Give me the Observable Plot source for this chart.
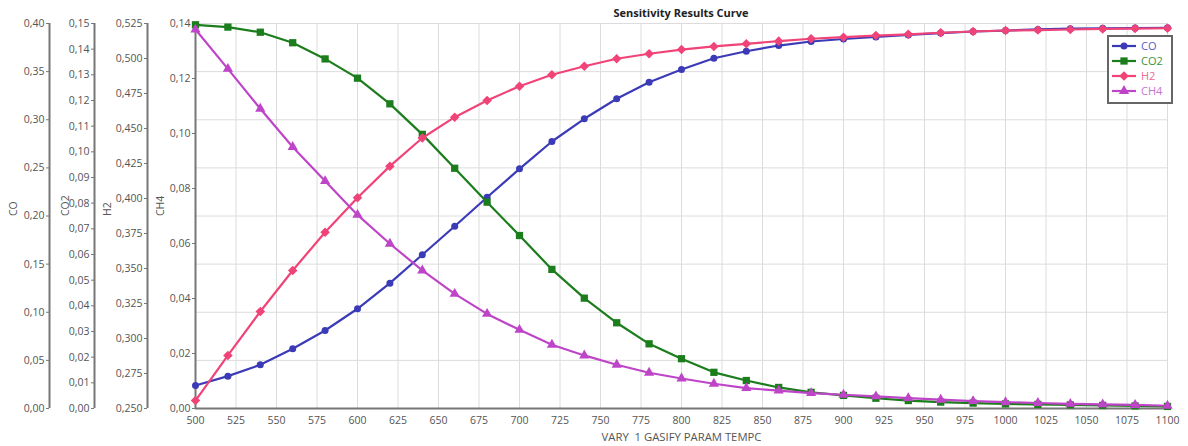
<!DOCTYPE html>
<html><head><meta charset="utf-8">
<script src="https://cdn.jsdelivr.net/npm/d3@7"></script>
<script src="https://cdn.jsdelivr.net/npm/@observablehq/plot@0.6"></script>
<style>
body{margin:0;background:#fff;font-family:"Open Sans",sans-serif;}
#wrap{position:relative;width:1188px;height:446px;overflow:hidden;}
#title{position:absolute;left:195px;width:972px;top:5px;text-align:center;font-weight:bold;font-size:11px;line-height:16px;color:#222;}
#chart{position:absolute;top:20px;left:0;}
#legend{position:absolute;left:1107px;top:35px;width:66px;height:69px;border:2px solid #666;background:#fff;box-sizing:border-box;padding-top:1px;}
.row{height:15px;display:flex;align-items:center;font-size:11px;line-height:15px;}
.row svg{margin-left:2px;margin-right:4px;}
</style></head>
<body>
<div id="wrap">
  <div id="title">Sensitivity Results Curve</div>
  <div id="chart"></div>
  <div id="legend"></div>
</div>
<script>
// ---- data ----
const temps = [500,520,540,560,580,600,620,640,660,680,700,720,740,760,780,800,820,840,860,880,900,920,940,960,980,1000,1020,1040,1060,1080,1100];
const coValues  = [0.0239,0.0336,0.0454,0.0620,0.0810,0.1036,0.1302,0.1597,0.1894,0.2195,0.2490,0.2774,0.3010,0.3218,0.3390,0.3522,0.3639,0.3712,0.3771,0.3813,0.3839,0.3860,0.3881,0.3901,0.3917,0.3927,0.3938,0.3946,0.3950,0.3953,0.3956];
const co2Values = [0.1495,0.1486,0.1466,0.1425,0.1362,0.1287,0.1187,0.1068,0.0936,0.0804,0.0674,0.0542,0.0430,0.0334,0.0252,0.0194,0.0141,0.0109,0.0082,0.0063,0.0051,0.0040,0.0031,0.0025,0.0021,0.0018,0.0016,0.0014,0.0012,0.0010,0.0008];
const h2Values  = [0.2557,0.2879,0.3193,0.3486,0.3759,0.4005,0.4231,0.4432,0.4581,0.4700,0.4802,0.4884,0.4945,0.4998,0.5034,0.5064,0.5086,0.5105,0.5124,0.5141,0.5152,0.5164,0.5173,0.5184,0.5193,0.5200,0.5203,0.5207,0.5211,0.5214,0.5216];
const ch4Values = [0.1378,0.1235,0.1090,0.0951,0.0827,0.0704,0.0599,0.0502,0.0417,0.0344,0.0286,0.0232,0.0193,0.0159,0.0130,0.0109,0.0090,0.0074,0.0065,0.0056,0.0050,0.0044,0.0038,0.0032,0.0027,0.0023,0.0020,0.0017,0.0015,0.0013,0.0010];

const xTicks   = [500,525,550,575,600,625,650,675,700,725,750,775,800,825,850,875,900,925,950,975,1000,1025,1050,1075,1100];
const coTicks  = [0,0.05,0.10,0.15,0.20,0.25,0.30,0.35,0.40];
const co2Ticks = [0,0.01,0.02,0.03,0.04,0.05,0.06,0.07,0.08,0.09,0.10,0.11,0.12,0.13,0.14,0.15];
const h2Ticks  = [0.250,0.275,0.300,0.325,0.350,0.375,0.400,0.425,0.450,0.475,0.500,0.525];
const ch4Ticks = [0,0.02,0.04,0.06,0.08,0.10,0.12,0.14];

const seriesNames = ["CO","CO2","H2","CH4"];
const xLabel = "VARY  1 GASIFY PARAM TEMPC";

// ---- configuration ----
const axes = {
  CO:  {lo:0,    hi:0.40,  ticks:coTicks,  digits:2, offset:146, titleX:13},
  CO2: {lo:0,    hi:0.15,  ticks:co2Ticks, digits:2, offset:101, titleX:65},
  H2:  {lo:0.25, hi:0.525, ticks:h2Ticks,  digits:3, offset:48,  titleX:107},
  CH4: {lo:0,    hi:0.14,  ticks:ch4Ticks, digits:2, offset:0,   titleX:160}
};
const styles = {
  CO:  {color:"#3b3bb8", text:"#5a5ac8", symbol:"circle",   r:3.5},
  CO2: {color:"#1b7d1b", text:"#3a943a", symbol:"square",   r:4.1},
  H2:  {color:"#f04478", text:"#f06a94", symbol:"diamond2", r:4.3},
  CH4: {color:"#bf45c8", text:"#c874d2", symbol:"triangle", r:3.8}
};
const valuesBy = {CO:coValues, CO2:co2Values, H2:h2Values, CH4:ch4Values};

const frameLeft = 195;
const norm = (name, v) => (v - axes[name].lo) / (axes[name].hi - axes[name].lo);
const fmt = (v, d) => v.toFixed(d).replace(".", ",");

const rows = seriesNames.map(name => temps.map((t, i) => ({series:name, t, v:valuesBy[name][i], yn:norm(name, valuesBy[name][i])})));

const marks = [
  Plot.gridX(xTicks, {stroke:"#dcdcdc", strokeOpacity:1}),
  Plot.gridY(coTicks.map(v => norm("CO", v)), {stroke:"#dcdcdc", strokeOpacity:1})
];

for (const name of seriesNames) {
  const a = axes[name];
  marks.push(
    Plot.ruleX([xTicks[0]], {dx:-a.offset, stroke:"#777", strokeWidth:2}),
    Plot.axisY(a.ticks.map(v => norm(name, v)), {
      anchor:"left", dx:-a.offset, tickSize:3, tickPadding:2,
      tickFormat: t => fmt(a.lo + t * (a.hi - a.lo), a.digits),
      label:null, fill:"#555", stroke:"#777", fontSize:10.5
    }),
    Plot.text([name], {text:d => d, frameAnchor:"left", rotate:-90, dx:a.titleX - frameLeft, fill:"#555", fontSize:10.5})
  );
}

marks.push(
  Plot.ruleY([0], {stroke:"#777", strokeWidth:2}),
  Plot.axisX(xTicks, {tickSize:0, tickPadding:8, tickFormat:d => `${d}`, label:null, fill:"#555", fontSize:10.5}),
  Plot.text([xLabel], {text:d => d, frameAnchor:"bottom", dy:29, lineAnchor:"middle", fill:"#555", fontSize:11.3})
);

rows.forEach((data, k) => {
  const s = styles[seriesNames[k]];
  marks.push(
    Plot.line(data, {x:"t", y:"yn", stroke:s.color, strokeWidth:2.2}),
    Plot.dot(data, {x:"t", y:"yn", symbol:() => s.symbol, fill:s.color, stroke:"none", r:s.r})
  );
});

const chart = Plot.plot({
  width:1188, height:426,
  marginLeft:195, marginRight:21, marginTop:3, marginBottom:38,
  x:{domain:[500,1100], axis:null},
  y:{domain:[0,1], axis:null},
  symbol:{type:"identity"},
  style:{fontFamily:"'Open Sans', sans-serif", fontSize:"10.5px", background:"white", overflow:"visible", whiteSpace:"pre"},
  marks
});
document.getElementById("chart").appendChild(chart);

// legend
const legend = d3.select("#legend");
const symbolMap = {circle:d3.symbolCircle, square:d3.symbolSquare, diamond2:d3.symbolDiamond2, triangle:d3.symbolTriangle};
for (const name of seriesNames) {
  const s = styles[name];
  const row = legend.append("div").attr("class", "row");
  const sv = row.append("svg").attr("width", 26).attr("height", 12);
  sv.append("line").attr("x1", 1).attr("x2", 25).attr("y1", 6).attr("y2", 6).attr("stroke", s.color).attr("stroke-width", 2.2);
  sv.append("path").attr("transform", "translate(13,6)").attr("d", d3.symbol(symbolMap[s.symbol], Math.PI * s.r * s.r)()).attr("fill", s.color);
  row.append("span").text(name).style("color", s.text);
}
</script>
</body></html>
